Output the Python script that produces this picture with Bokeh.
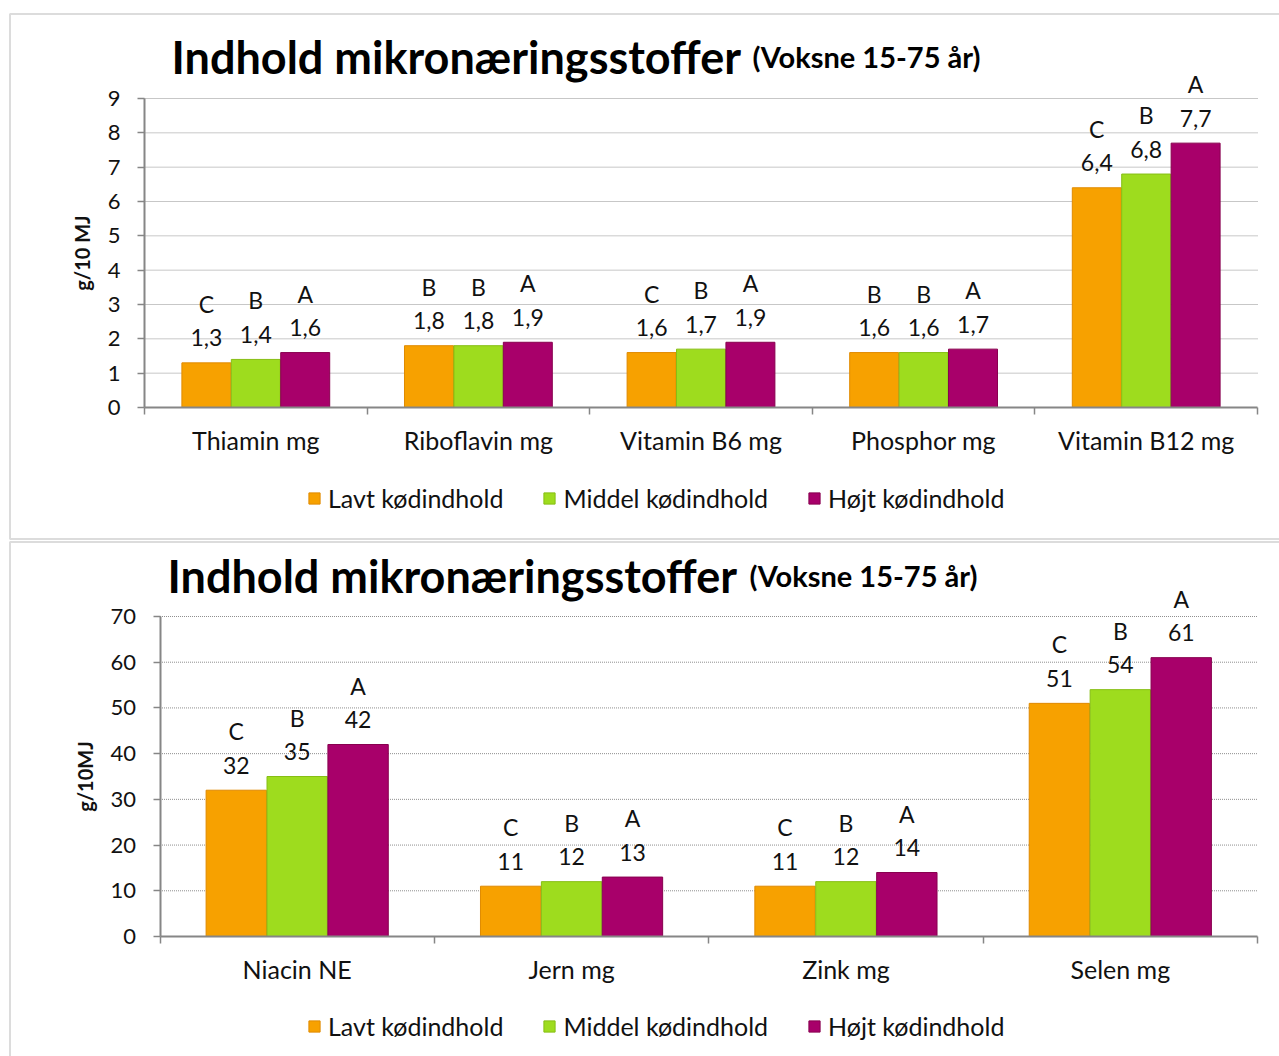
import numpy as np
from bokeh.plotting import figure
from bokeh.models import (ColumnDataSource, FixedTicker, Label, Legend, LegendItem,
                          Range1d, LinearAxis, BoxAnnotation)
from bokeh.layouts import column
from bokeh.embed import file_html
from bokeh.resources import INLINE
from bokeh.core.properties import value

FONT = "Lato"

series = ["Lavt kødindhold", "Middel kødindhold", "Højt kødindhold"]
colors = ["#F7A100", "#9EDC1E", "#A8006A"]
outline = ["#E08A00", "#86BE14", "#88004F"]

top_categories = ["Thiamin mg", "Riboflavin mg", "Vitamin B6 mg", "Phosphor mg", "Vitamin B12 mg"]
top_low = [1.3, 1.8, 1.6, 1.6, 6.4]
top_mid = [1.4, 1.8, 1.7, 1.6, 6.8]
top_high = [1.6, 1.9, 1.9, 1.7, 7.7]
top_let_low = ["C", "B", "C", "B", "C"]
top_let_mid = ["B", "B", "B", "B", "B"]
top_let_high = ["A", "A", "A", "A", "A"]
top_yticks = [0, 1, 2, 3, 4, 5, 6, 7, 8, 9]

bot_categories = ["Niacin NE", "Jern mg", "Zink mg", "Selen mg"]
bot_low = [32, 11, 11, 51]
bot_mid = [35, 12, 12, 54]
bot_high = [42, 13, 14, 61]
bot_let_low = ["C", "C", "C", "C"]
bot_let_mid = ["B", "B", "B", "B"]
bot_let_high = ["A", "A", "A", "A"]
bot_yticks = [0, 10, 20, 30, 40, 50, 60, 70]

title_main = "Indhold mikronæringsstoffer"
title_sub = "(Voksne 15-75 år)"

GRAY = "#868686"
TXT = "#111111"


def make_chart(categories, vals, letters, decimals, yticks, ylabel, canvas, box,
               title_xy, sub_x, legend_xy, border):
    # canvas = (ox, oy, W, H) in page pixels; box = plot area (L, R, T, B) in page pixels
    ox, oy, W, H = canvas
    L, R, T, B = box
    n = len(categories)
    ymin, ymax = yticks[0], yticks[-1]
    pxu = (R - L) / n
    pyu = (B - T) / (ymax - ymin)
    x_range = Range1d(0 - (L - ox) / pxu, n + (ox + W - R) / pxu)
    y_range = Range1d(ymin - (oy + H - B) / pyu, ymax + (T - oy) / pyu)

    p = figure(width=W, height=H, output_backend="svg", toolbar_location=None,
               x_range=x_range, y_range=y_range, x_axis_location=None,
               y_axis_location=None, min_border=0)
    p.min_border_left = p.min_border_right = p.min_border_top = p.min_border_bottom = 0
    p.outline_line_color = None
    p.background_fill_color = "white"
    p.border_fill_color = "white"
    p.xgrid.visible = False
    p.ygrid.visible = False

    # horizontal dotted gridlines across the plot area
    p.segment(x0=[0] * (len(yticks) - 1), x1=[n] * (len(yticks) - 1),
              y0=yticks[1:], y1=yticks[1:], line_color="#8f8f8f",
              line_dash="1 1", line_width=1)

    centers = np.arange(n) + 0.5
    offsets = [-0.222, 0.0, 0.222]
    items = []
    for k in range(3):
        labels_val = [(f"{v:.{decimals}f}").replace(".", ",") for v in vals[k]]
        src = ColumnDataSource(dict(x=centers + offsets[k], top=vals[k],
                                    lab=labels_val, let=letters[k]))
        r = p.vbar(x="x", top="top", width=0.22, bottom=0, source=src,
                   fill_color=colors[k], line_color=outline[k], line_width=1)
        items.append(LegendItem(label=series[k], renderers=[r]))
        p.text(x="x", y="top", text="lab", source=src, text_align="center",
               text_baseline="middle", y_offset=-25, text_font=value(FONT),
               text_font_size="23px", text_color=TXT)
        p.text(x="x", y="top", text="let", source=src, text_align="center",
               text_baseline="middle", y_offset=-59, text_font=value(FONT),
               text_font_size="23px", text_color=TXT)

    xax = LinearAxis(fixed_location=0, bounds=(0, n))
    xax.ticker = FixedTicker(ticks=list(centers), minor_ticks=list(range(n + 1)))
    xax.major_label_overrides = {float(c): cat for c, cat in zip(centers, categories)}
    xax.major_tick_line_color = None
    xax.major_tick_out = 0
    xax.major_tick_in = 0
    xax.minor_tick_out = 7
    xax.minor_tick_in = 0
    xax.minor_tick_line_color = GRAY
    xax.minor_tick_line_width = 1.5
    xax.major_label_standoff = 10
    xax.major_label_text_font = FONT
    xax.major_label_text_font_size = "25px"
    xax.major_label_text_color = TXT

    yax = LinearAxis(fixed_location=0, bounds=(ymin, ymax))
    yax.ticker = FixedTicker(ticks=yticks, minor_ticks=[])
    yax.major_tick_out = 7
    yax.major_tick_in = 0
    yax.major_tick_line_color = GRAY
    yax.major_tick_line_width = 1.5
    yax.major_label_standoff = 17
    yax.major_label_text_font = FONT
    yax.major_label_text_font_size = "22px"
    yax.major_label_text_color = TXT
    yax.axis_label = ylabel
    yax.axis_label_text_font = FONT
    yax.axis_label_text_font_style = "bold"
    yax.axis_label_text_font_size = "20px"
    yax.axis_label_text_color = TXT
    yax.axis_label_standoff = 11

    for ax in (xax, yax):
        ax.axis_line_color = GRAY
        ax.axis_line_width = 2
    p.add_layout(xax, "below")
    p.add_layout(yax, "left")

    # chart border (screen units: x from left, y up from bottom)
    bl, br, bt, bb = border
    p.add_layout(BoxAnnotation(left=bl, right=br, top=bt, bottom=bb,
                               left_units="screen", right_units="screen",
                               top_units="screen", bottom_units="screen",
                               fill_alpha=0, line_color="#8c8c8c", line_width=2))

    # title
    p.add_layout(Label(x=title_xy[0], y=title_xy[1], x_units="screen", y_units="screen",
                       text=title_main, text_font=FONT, text_font_style="bold",
                       text_font_size="45px", text_color="#000000",
                       text_baseline="alphabetic"))
    p.add_layout(Label(x=sub_x, y=title_xy[1], x_units="screen", y_units="screen",
                       text=title_sub, text_font=FONT, text_font_style="bold",
                       text_font_size="29px", text_color="#000000",
                       text_baseline="alphabetic"))

    legend = Legend(items=items, location=legend_xy, orientation="horizontal",
                    spacing=39, label_standoff=7, glyph_width=14, glyph_height=14,
                    padding=0, margin=0, border_line_color=None,
                    background_fill_alpha=0, label_text_font=FONT,
                    label_text_font_size="25px", label_text_color=TXT)
    p.add_layout(legend, "center")
    return p


# top chart: canvas page (0, 0) 1279x540 ; plot area 144..1257 x 98..407
p1 = make_chart(top_categories, [top_low, top_mid, top_high],
                [top_let_low, top_let_mid, top_let_high], 1, top_yticks, "g/10 MJ",
                (0, 0, 1279, 540), (144, 1257, 98, 407),
                (171, 484), 752, (307, 27), (9.5, 1300, 526.5, 1.5))
# bottom chart: canvas page (0, 540) 1279x516 ; plot area 159.5..1257 x 616..936
p2 = make_chart(bot_categories, [bot_low, bot_mid, bot_high],
                [bot_let_low, bot_let_mid, bot_let_high], 0, bot_yticks, "g/10MJ",
                (0, 540, 1279, 516), (159.5, 1257, 616, 936),
                (167, 481), 749, (307, 15), (9.5, 1300, 514.5, -20))

layout = column(p1, p2, spacing=0)

with open("out.html", "w") as f:
    f.write(file_html(layout, INLINE))
